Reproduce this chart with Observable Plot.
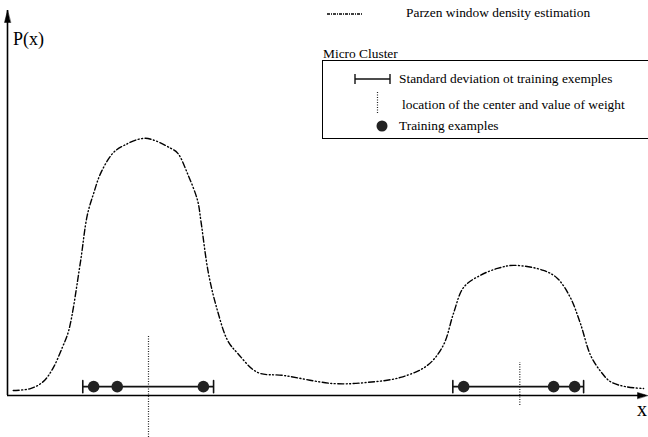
<!DOCTYPE html>
<html>
<head>
<meta charset="utf-8">
<script src="https://cdn.jsdelivr.net/npm/d3@7"></script>
<script src="https://cdn.jsdelivr.net/npm/@observablehq/plot@0.6"></script>
<style>
  html, body { margin: 0; padding: 0; background: #fff; }
  #chart svg { display: block; }
</style>
</head>
<body>
<div id="chart"></div>
<script>
// Parzen window density estimate (x in arbitrary units, y density)
const curveX = [0.09, 0.36, 0.56, 0.71, 0.86, 0.96, 1.14, 1.25, 1.35, 1.46, 1.65, 1.82, 2.16, 2.56, 2.67, 2.82, 2.98, 3.03, 3.15, 3.29, 3.45, 3.61, 3.92, 4.33, 5.11, 5.64, 6.16, 6.58, 6.83, 6.99, 7.15, 7.41, 7.68, 7.93, 8.40, 8.62, 8.82, 8.98, 9.14, 9.30, 9.45, 9.69, 9.97];
const curveY = [0.013, 0.018, 0.036, 0.070, 0.125, 0.169, 0.343, 0.468, 0.525, 0.577, 0.629, 0.649, 0.668, 0.642, 0.629, 0.577, 0.506, 0.455, 0.317, 0.221, 0.143, 0.109, 0.060, 0.052, 0.031, 0.034, 0.047, 0.078, 0.130, 0.213, 0.281, 0.312, 0.330, 0.338, 0.325, 0.304, 0.255, 0.187, 0.104, 0.062, 0.036, 0.023, 0.018];

// Micro clusters
const clusterNames = ["A", "B"];
const clusterLow = [1.18, 6.98];
const clusterHigh = [3.23, 9.03];
const clusterCenter = [2.21, 8.03];
const clusterWeightTop = [0.156, 0.086];
const clusterWeightBottom = [-0.109, -0.026];
const barLevel = 0.023;

// Training examples
const sampleCluster = ["A", "A", "A", "B", "B", "B"];
const sampleX = [1.35, 1.72, 3.07, 7.15, 8.56, 8.89];

// Text
const yLabel = "P(x)";
const xLabel = "x";
const parzenLabel = "Parzen window density estimation";
const legendTitle = "Micro Cluster";
const legendItems = ["Standard deviation ot training exemples", "location of the center and value of weight", "Training examples"];

const curve = curveX.map((x, i) => ({x, y: curveY[i]}));
const clusters = clusterNames.map((name, i) => ({
  name, lo: clusterLow[i], hi: clusterHigh[i], c: clusterCenter[i],
  top: clusterWeightTop[i], bottom: clusterWeightBottom[i], y: barLevel
}));
const caps = clusters.flatMap(d => [{x: d.lo, y: d.y}, {x: d.hi, y: d.y}]);
const samples = sampleX.map((x, i) => ({x, y: barLevel, cluster: sampleCluster[i]}));

const headShape = {
  draw(ctx, l) { ctx.moveTo(0, -l); ctx.lineTo(-3, 0); ctx.lineTo(3, 0); ctx.closePath(); }
};
const capShape = {
  draw(ctx, l) { ctx.moveTo(0, 0); ctx.lineTo(0, -l); }
};

const plot = Plot.plot({
  width: 648,
  height: 437,
  margin: 0,
  x: {domain: [0, 10], range: [7, 645], axis: null},
  y: {domain: [0, 1], range: [395, 10], axis: null},
  style: {fontFamily: "'Liberation Serif', 'Times New Roman', serif", background: "#fff"},
  marks: [
    // axes
    Plot.ruleX([0], {y1: 0, y2: 1, stroke: "#000", strokeWidth: 1.6}),
    Plot.ruleY([0], {x1: 0, x2: 10, stroke: "#000", strokeWidth: 1.6}),
    Plot.vector([{x: 0, y: 1}], {x: "x", y: "y", length: 12, rotate: 0, anchor: "end", shape: headShape, fill: "#000", stroke: "#000", strokeWidth: 0.5}),
    Plot.vector([{x: 10, y: 0}], {x: "x", y: "y", length: 10, rotate: 90, anchor: "end", dx: 2, shape: headShape, fill: "#000", stroke: "#000", strokeWidth: 0.5}),
    // density curve
    Plot.line(curve, {x: "x", y: "y", curve: "catmull-rom", stroke: "#000", strokeWidth: 1.4, strokeDasharray: "6,2.5,1,2.5,1,2.5"}),
    // center / weight lines
    Plot.ruleX(clusters, {x: "c", y1: "bottom", y2: "top", stroke: "#222", strokeWidth: 1.2, strokeDasharray: "1,1.5"}),
    // standard deviation bars
    Plot.ruleY(clusters, {y: "y", x1: "lo", x2: "hi", stroke: "#111", strokeWidth: 1.8}),
    Plot.vector(caps, {x: "x", y: "y", length: 12, rotate: 0, anchor: "middle", shape: capShape, stroke: "#111", strokeWidth: 1.6}),
    // training examples
    Plot.dot(samples, {x: "x", y: "y", r: 5.8, fill: "#222", stroke: "none"})
  ]
});

document.getElementById("chart").appendChild(plot);

// Annotations and legend (layout in pixels)
const svg = d3.select(plot);
const font = "'Liberation Serif', 'Times New Roman', serif";
const fs = 13.4;
const g = svg.append("g").attr("font-family", font).attr("fill", "#000").attr("text-anchor", "start");

g.append("text").attr("x", 13).attr("y", 45).attr("font-size", 18).text(yLabel);
g.append("text").attr("x", 637).attr("y", 416).attr("font-size", 20).text(xLabel);

// Parzen legend entry
g.append("line").attr("x1", 327).attr("x2", 363).attr("y1", 14).attr("y2", 14)
  .attr("stroke", "#000").attr("stroke-width", 1.4).attr("stroke-dasharray", "3,1,1,1");
g.append("text").attr("x", 406).attr("y", 17).attr("font-size", fs).text(parzenLabel);

// Micro cluster box
g.append("text").attr("x", 323).attr("y", 58).attr("font-size", fs).text(legendTitle);
g.append("rect").attr("x", 322.5).attr("y", 60.5).attr("width", 340).attr("height", 78)
  .attr("fill", "none").attr("stroke", "#000").attr("stroke-width", 1);

// item 1: error bar
g.append("line").attr("x1", 355).attr("x2", 390).attr("y1", 79).attr("y2", 79).attr("stroke", "#111").attr("stroke-width", 1.6);
g.append("line").attr("x1", 355).attr("x2", 355).attr("y1", 74).attr("y2", 84).attr("stroke", "#111").attr("stroke-width", 1.4);
g.append("line").attr("x1", 390).attr("x2", 390).attr("y1", 74).attr("y2", 84).attr("stroke", "#111").attr("stroke-width", 1.4);
g.append("text").attr("x", 399).attr("y", 83).attr("font-size", fs).text(legendItems[0]);

// item 2: dotted center line
g.append("line").attr("x1", 377.5).attr("x2", 377.5).attr("y1", 92).attr("y2", 113)
  .attr("stroke", "#222").attr("stroke-width", 1.2).attr("stroke-dasharray", "1,1.5");
g.append("text").attr("x", 402).attr("y", 109).attr("font-size", fs).text(legendItems[1]);

// item 3: dot
g.append("circle").attr("cx", 382).attr("cy", 126).attr("r", 5.5).attr("fill", "#222");
g.append("text").attr("x", 399).attr("y", 130).attr("font-size", fs).text(legendItems[2]);
</script>
</body>
</html>
